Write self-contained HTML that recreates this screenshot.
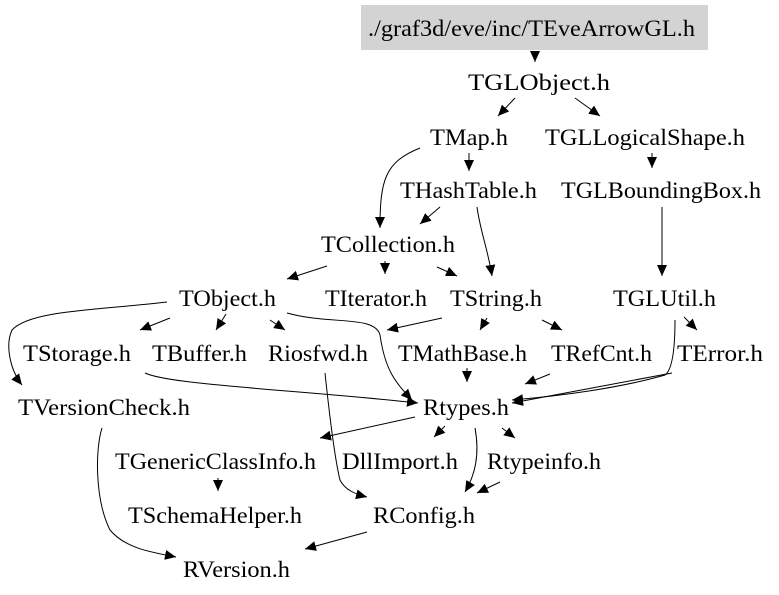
<!DOCTYPE html>
<html><head><meta charset="utf-8"><style>
html,body{margin:0;padding:0;background:#fff;}
svg{display:block;}
text{font-family:"Liberation Serif",serif;font-size:23px;fill:#000;}
</style></head><body>
<svg width="779" height="595" viewBox="0 0 779 595" xmlns="http://www.w3.org/2000/svg">
<defs>
<marker id="a" markerUnits="userSpaceOnUse" markerWidth="12" markerHeight="10" refX="11" refY="5" orient="auto">
<path d="M0,0 L11,5 L0,10 Z" fill="#000"/>
</marker>
</defs>
<rect x="361" y="5" width="347" height="45" fill="#d3d3d3"/>
<g fill="none" stroke="#000" stroke-width="1" marker-end="url(#a)">
<path d="M535,52 L535,62"/>
<path d="M515,98 L498,116"/>
<path d="M575,98 L600,116"/>
<path d="M652,153 L652,168"/>
<path d="M420,148 C385,162 380,180 380,228"/>
<path d="M469,153 L469,171"/>
<path d="M440,207 L420,224"/>
<path d="M477,207 C480,230 488,250 492,276"/>
<path d="M327,266 L287,279"/>
<path d="M385,261 L385,274"/>
<path d="M437,267 L457,276"/>
<path d="M662,207 L662,276"/>
<path d="M170,318 L140,330"/>
<path d="M226,314 L216,330"/>
<path d="M270,320 L285,330"/>
<path d="M287,313 C330,325 375,315 380,335 C385,370 395,382 412,400"/>
<path d="M167,302 C100,310 30,310 12,330 C5,345 10,370 22,385"/>
<path d="M442,318 L387,330"/>
<path d="M487,318 L480,330"/>
<path d="M542,320 L562,330"/>
<path d="M684,317 L697,330"/>
<path d="M675,320 C675,350 672,370 665,375 C620,388 560,396 512,400"/>
<path d="M672,373 L512,403"/>
<path d="M145,373 C170,385 300,390 418,403"/>
<path d="M467,368 L467,382"/>
<path d="M550,374 L525,384"/>
<path d="M325,373 C330,420 335,460 340,480 C345,490 355,494 367,497"/>
<path d="M415,417 L320,438"/>
<path d="M445,426 L434,437"/>
<path d="M502,428 L515,438"/>
<path d="M475,428 C480,455 475,475 465,492"/>
<path d="M500,482 L477,493"/>
<path d="M218,478 L218,491"/>
<path d="M367,532 L305,549"/>
<path d="M102,428 C95,450 95,500 110,530 C125,548 150,552 176,557"/>
</g>
<g>
<text x="368" y="36" textLength="327" lengthAdjust="spacingAndGlyphs">./graf3d/eve/inc/TEveArrowGL.h</text>
<text x="468" y="90" textLength="142" lengthAdjust="spacingAndGlyphs">TGLObject.h</text>
<text x="430" y="145" textLength="78" lengthAdjust="spacingAndGlyphs">TMap.h</text>
<text x="545" y="145" textLength="200" lengthAdjust="spacingAndGlyphs">TGLLogicalShape.h</text>
<text x="400" y="198" textLength="137" lengthAdjust="spacingAndGlyphs">THashTable.h</text>
<text x="561" y="198" textLength="200" lengthAdjust="spacingAndGlyphs">TGLBoundingBox.h</text>
<text x="321" y="252" textLength="134" lengthAdjust="spacingAndGlyphs">TCollection.h</text>
<text x="179" y="306" textLength="97" lengthAdjust="spacingAndGlyphs">TObject.h</text>
<text x="325" y="306" textLength="102" lengthAdjust="spacingAndGlyphs">TIterator.h</text>
<text x="450" y="306" textLength="92" lengthAdjust="spacingAndGlyphs">TString.h</text>
<text x="613" y="306" textLength="103" lengthAdjust="spacingAndGlyphs">TGLUtil.h</text>
<text x="23" y="361" textLength="108" lengthAdjust="spacingAndGlyphs">TStorage.h</text>
<text x="152" y="361" textLength="95" lengthAdjust="spacingAndGlyphs">TBuffer.h</text>
<text x="268" y="361" textLength="100" lengthAdjust="spacingAndGlyphs">Riosfwd.h</text>
<text x="398" y="361" textLength="129" lengthAdjust="spacingAndGlyphs">TMathBase.h</text>
<text x="551" y="361" textLength="101" lengthAdjust="spacingAndGlyphs">TRefCnt.h</text>
<text x="677" y="361" textLength="86" lengthAdjust="spacingAndGlyphs">TError.h</text>
<text x="18" y="415" textLength="172" lengthAdjust="spacingAndGlyphs">TVersionCheck.h</text>
<text x="423" y="415" textLength="86" lengthAdjust="spacingAndGlyphs">Rtypes.h</text>
<text x="115" y="469" textLength="201" lengthAdjust="spacingAndGlyphs">TGenericClassInfo.h</text>
<text x="342" y="469" textLength="116" lengthAdjust="spacingAndGlyphs">DllImport.h</text>
<text x="487" y="469" textLength="114" lengthAdjust="spacingAndGlyphs">Rtypeinfo.h</text>
<text x="128" y="523" textLength="174" lengthAdjust="spacingAndGlyphs">TSchemaHelper.h</text>
<text x="373" y="523" textLength="102" lengthAdjust="spacingAndGlyphs">RConfig.h</text>
<text x="183" y="577" textLength="107" lengthAdjust="spacingAndGlyphs">RVersion.h</text>
</g>
</svg>
</body></html>
